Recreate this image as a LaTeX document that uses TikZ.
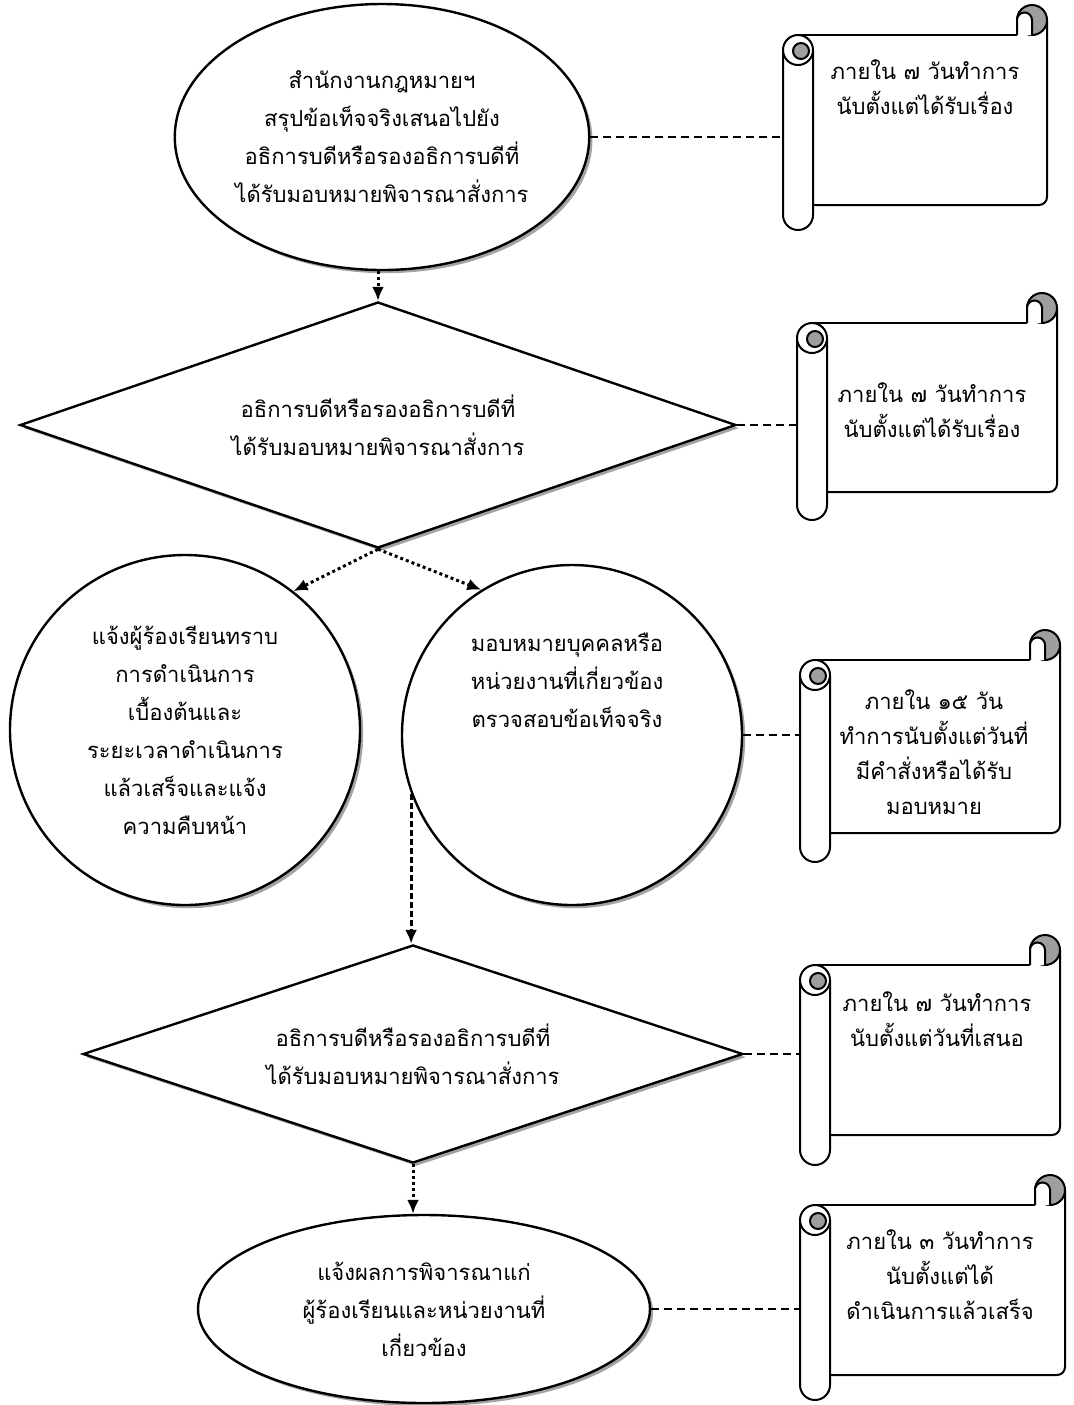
\documentclass[tikz,border=0pt]{standalone}
\usepackage{fontspec}
\setmainfont[Script=Thai]{Loma}
\usetikzlibrary{shapes.geometric,arrows.meta,shadows}
\definecolor{curlgray}{gray}{0.62}
\definecolor{shadowgray}{gray}{0.55}
% #1 name, #2 roll left x, #3 body top y, #4 body right x, #5 body bottom y, #6 roll bottom y
\newcommand\scrollshape[6]{%
  \draw[scrl] ({#2+15},{-#3}) -- ({#4-30},{-#3});
  \draw[scrl] ({#4},{-(#3-15)}) -- ({#4},{-(#5-8)}) arc[start angle=0,end angle=-90,radius=8] -- ({#2+30},{-#5});
  \draw[scrl,fill=curlgray] ({#4-15},{-(#3-15)}) circle[radius=15];
  \draw[scrl,fill=white] ({#4-30},{-#3}) -- ({#4-30},{-(#3-15)}) arc[start angle=180,end angle=0,radius=7.5] -- ({#4-15},{-#3});
  \draw[scrl,fill=white] ({#2},{-(#3+15)}) -- ({#2},{-(#6-15)}) arc[start angle=180,end angle=360,radius=15] -- ({#2+30},{-(#3+15)});
  \draw[scrl,fill=white] ({#2+15},{-(#3+15)}) circle[radius=15];
  \draw[scrl,fill=curlgray] ({#2+18},{-(#3+16)}) circle[radius=8];
  \node[draw=none,inner sep=0pt,minimum width=15pt,minimum height={(#6-#3)*0.5pt}] (#1) at ({#2+15},{-(#3+#6)/2}) {};
}
\begin{document}
\begin{tikzpicture}[x=0.5pt,y=0.5pt,
  shp/.style={draw=black, line width=1.2pt, fill=white, align=center, inner sep=0pt,
    font=\fontsize{11}{19}\selectfont,
    drop shadow={shadow xshift=1.6pt, shadow yshift=-1.6pt, fill=shadowgray, opacity=0.8}},
  ell/.style={shp, ellipse},
  circ/.style={shp, circle},
  dia/.style={shp, diamond, shape aspect=3},
  scrl/.style={line width=1pt},
  stext/.style={align=center, inner sep=0pt, font=\fontsize{11}{17.5}\selectfont},
  btext/.style={align=center, inner sep=0pt, font=\fontsize{11}{19}\selectfont},
  link/.style={line width=1.3pt, dash pattern=on 4pt off 2.5pt},
  dotarrow/.style={line width=1.5pt, dash pattern=on 1.5pt off 1.5pt, -{Latex[length=7pt,width=6pt]}},
  dasharrow/.style={line width=1.5pt, dash pattern=on 3pt off 1.5pt, -{Latex[length=7pt,width=6pt]}},
]
\fill[white] (0,0) rectangle (1073,-1405);
\useasboundingbox (0,0) rectangle (1073,-1405);

% main shapes
\node[ell, minimum width=200pt, minimum height=133pt] (e1) at (382,-137)
  {สำนักงานกฎหมายฯ\\สรุปข้อเท็จจริงเสนอไปยัง\\อธิการบดีหรือรองอธิการบดีที่\\ได้รับมอบหมายพิจารณาสั่งการ};
\node[dia, minimum width=358pt, minimum height=123pt] (d1) at (378,-425)
  {อธิการบดีหรือรองอธิการบดีที่\\ได้รับมอบหมายพิจารณาสั่งการ};
\node[circ, minimum size=175pt] (c1) at (185,-730)
  {แจ้งผู้ร้องเรียนทราบ\\การดำเนินการ\\เบื้องต้นและ\\ระยะเวลาดำเนินการ\\แล้วเสร็จและแจ้ง\\ความคืบหน้า};
\node[circ, minimum size=170pt] (c2) at (572,-735) {};
\node[btext] (c2t) at (567,-680)
  {มอบหมายบุคคลหรือ\\หน่วยงานที่เกี่ยวข้อง\\ตรวจสอบข้อเท็จจริง};
\node[dia, minimum width=330pt, minimum height=109pt] (d2) at (413,-1054)
  {อธิการบดีหรือรองอธิการบดีที่\\ได้รับมอบหมายพิจารณาสั่งการ};
\node[ell, minimum width=226pt, minimum height=94pt] (e3) at (424,-1309)
  {แจ้งผลการพิจารณาแก่\\ผู้ร้องเรียนและหน่วยงานที่\\เกี่ยวข้อง};

% scrolls
\scrollshape{s1}{783}{35}{1047}{205}{230}
\scrollshape{s2}{797}{323}{1057}{492}{520}
\scrollshape{s3}{800}{660}{1060}{833}{862}
\scrollshape{s4}{800}{965}{1060}{1135}{1165}
\scrollshape{s5}{800}{1205}{1065}{1375}{1400}

\node[stext] (s1t) at (925,-87) {ภายใน ๗ วันทำการ\\นับตั้งแต่ได้รับเรื่อง};
\node[stext] (s2t) at (932,-410) {ภายใน ๗ วันทำการ\\นับตั้งแต่ได้รับเรื่อง};
\node[stext] (s3t) at (934,-752) {ภายใน ๑๕ วัน\\ทำการนับตั้งแต่วันที่\\มีคำสั่งหรือได้รับ\\มอบหมาย};
\node[stext] (s4t) at (937,-1019) {ภายใน ๗ วันทำการ\\นับตั้งแต่วันที่เสนอ};
\node[stext] (s5t) at (940,-1275) {ภายใน ๓ วันทำการ\\นับตั้งแต่ได้\\ดำเนินการแล้วเสร็จ};

% links to scrolls
\draw[link] (e1.east) -- (e1.east -| s1.west);
\draw[link] (d1.east) -- (d1.east -| s2.west);
\draw[link] (c2.east) -- (c2.east -| s3.west);
\draw[link] (d2.east) -- (d2.east -| s4.west);
\draw[link] (e3.east) -- (e3.east -| s5.west);

% flow arrows
\draw[dotarrow] (d1.north |- e1.south) -- (d1.north);
\draw[dotarrow] (d1.south) -- (c1.52);
\draw[dotarrow] (d1.south) -- (c2.122);
\draw[dasharrow] (c2.200) -- (c2.200 |- d2.north);
\draw[dotarrow] (d2.south) -- (d2.south |- e3.north);
\end{tikzpicture}
\end{document}
